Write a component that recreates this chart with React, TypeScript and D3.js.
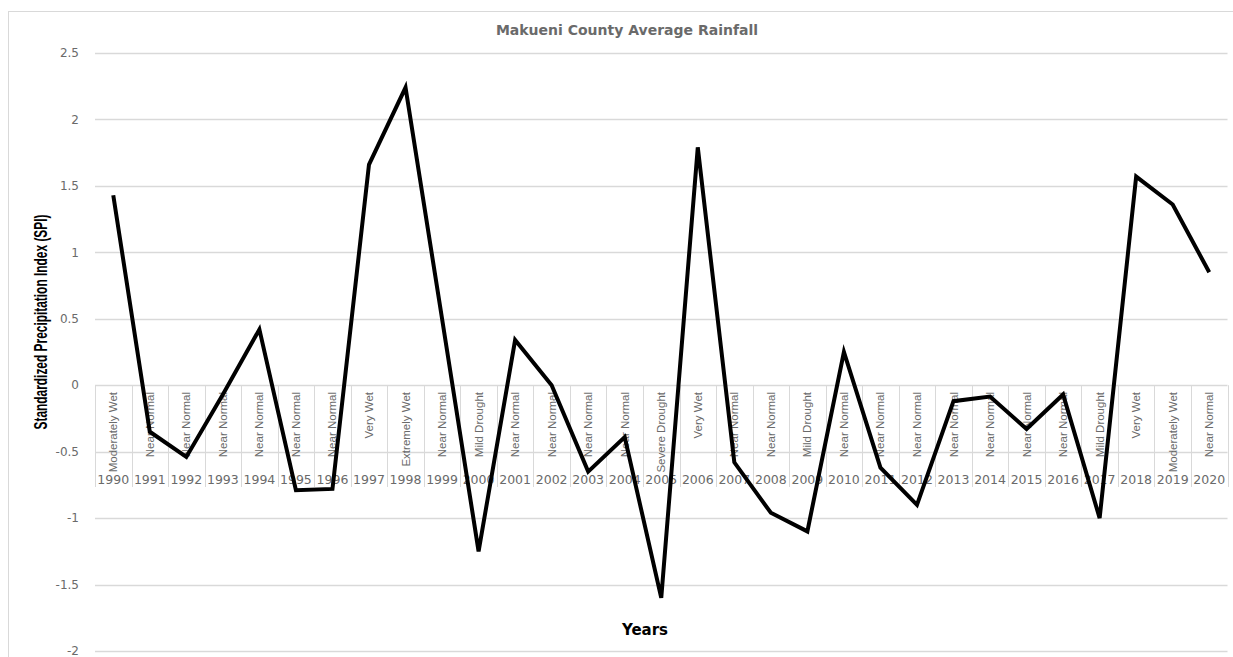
import React from "react";
import * as d3 from "d3";

const years = ["1990","1991","1992","1993","1994","1995","1996","1997","1998","1999","2000","2001","2002","2003","2004","2005","2006","2007","2008","2009","2010","2011","2012","2013","2014","2015","2016","2017","2018","2019","2020"];
const classes = ["Moderately Wet","Near Normal","Near Normal","Near Normal","Near Normal","Near Normal","Near Normal","Very Wet","Extremely Wet","Near Normal","Mild Drought","Near Normal","Near Normal","Near Normal","Near Normal","Severe Drought","Very Wet","Near Normal","Near Normal","Mild Drought","Near Normal","Near Normal","Near Normal","Near Normal","Near Normal","Near Normal","Near Normal","Mild Drought","Very Wet","Moderately Wet","Near Normal"];
const spi = [1.43,-0.35,-0.54,-0.07,0.42,-0.79,-0.78,1.66,2.24,0.5,-1.25,0.34,0.0,-0.65,-0.39,-1.6,1.79,-0.58,-0.96,-1.1,0.25,-0.62,-0.9,-0.12,-0.085,-0.33,-0.07,-1.0,1.57,1.36,0.85];
const yTicks = [-2,-1.5,-1,-0.5,0,0.5,1,1.5,2,2.5];

const title = "Makueni County Average Rainfall";
const yTitle = "Standardized Precipitation Index (SPI)";
const xTitle = "Years";

export default function App() {
  const W = 1233, H = 657;
  const left = 95, right = 1227.5, top = 53, bottom = 651;
  const x = d3.scaleBand<string>().domain(years).range([left, right]).padding(0);
  const y = d3.scaleLinear().domain([-2, 2.5]).range([bottom, top]);
  const cx = (d: string) => (x(d) as number) + x.bandwidth() / 2;
  const line = d3.line<number>().x((_, i) => cx(years[i])).y((d) => y(d));
  const grey = "#6a6a6a";
  const gridC = "#d9d9d9";
  const y0 = y(0);
  const sepBottom = 487;
  const bounds = years.map((d) => x(d) as number).concat([right]);

  return (
    <svg width={W} height={H} style={{ position: "absolute", left: 0, top: 0 }}>
      <rect x={0} y={0} width={W} height={H} fill="#fff" />
      <rect x={8.5} y={11.5} width={1240} height={700} fill="none" stroke={gridC} strokeWidth={1} />
      <text x={627} y={35} textAnchor="middle" fontFamily="DejaVu Sans" fontWeight="bold" fontSize={14} fill={grey}>{title}</text>
      {yTicks.map((t) => (
        <g key={t}>
          <line x1={left} x2={right} y1={Math.round(y(t)) + 0.5} y2={Math.round(y(t)) + 0.5} stroke={gridC} strokeWidth={1.3} />
          <text x={79} y={y(t)} dy="0.35em" textAnchor="end" fontFamily="DejaVu Sans" fontSize={12} fill={grey}>{t}</text>
        </g>
      ))}
      {bounds.map((b, i) => (
        <line key={"s" + i} x1={Math.round(b) + 0.5} x2={Math.round(b) + 0.5} y1={y0} y2={sepBottom} stroke={gridC} strokeWidth={1} />
      ))}
      {years.map((d, i) => (
        <g key={d}>
          <text transform={`translate(${cx(d) + 4},392) rotate(-90)`} textAnchor="end" fontFamily="'Liberation Sans Narrow', 'Arial Narrow', sans-serif" fontSize={11.5} fill={grey}>{classes[i]}</text>
          <text x={cx(d)} y={484} textAnchor="middle" fontFamily="DejaVu Sans" fontSize={12.5} fill={grey}>{d}</text>
        </g>
      ))}
      <path d={line(spi) || ""} fill="none" stroke="#000" strokeWidth={4} strokeLinejoin="miter" />
      <text transform="translate(47,322) rotate(-90)" textAnchor="middle" fontFamily="'Liberation Sans Narrow', 'Arial Narrow', sans-serif" fontWeight="bold" fontSize={18} fill="#000" textLength={215} lengthAdjust="spacingAndGlyphs">{yTitle}</text>
      <text x={645} y={635} textAnchor="middle" fontFamily="DejaVu Sans" fontWeight="bold" fontSize={15} fill="#000">{xTitle}</text>
    </svg>
  );
}
